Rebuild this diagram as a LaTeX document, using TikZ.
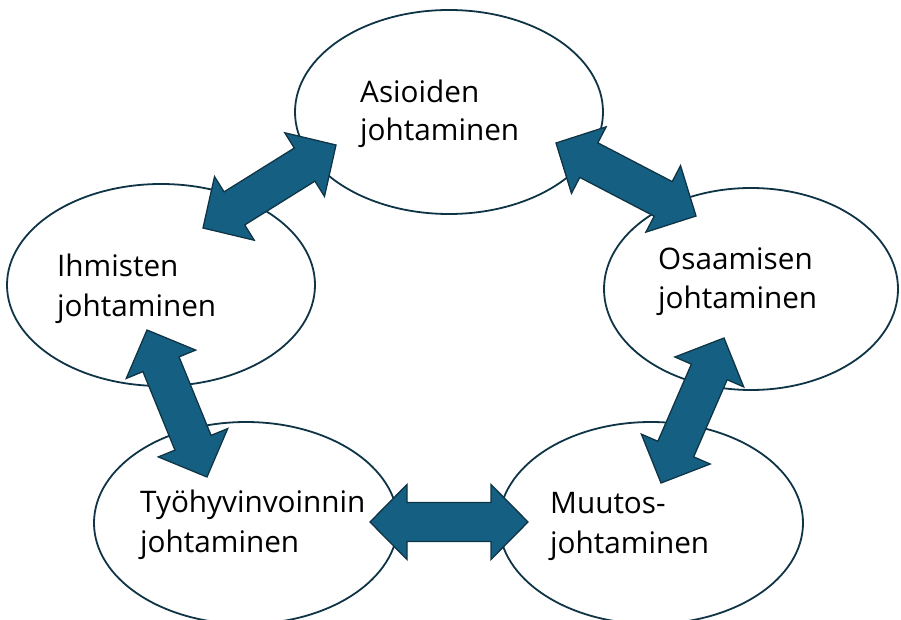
\documentclass[tikz,border=0pt]{standalone}
\usepackage{fontspec}
\setmainfont{Open Sans}
\usetikzlibrary{calc,shapes.geometric}
\definecolor{arrowblue}{HTML}{156082}
\definecolor{edgedark}{HTML}{0F3446}
\tikzset{
  bubble/.style={ellipse, draw=edgedark, line width=1.8pt, fill=white, inner sep=0pt},
  lbl/.style={anchor=base west, inner sep=0pt, font=\fontsize{29.7}{36}\selectfont, text=black},
  blockarrow/.style={fill=arrowblue, draw=edgedark, line width=1.3pt, line join=miter},
}
\newcommand\dblblock[2]{%
  \draw[blockarrow] (#1)
    -- ($(#1)!37pt!(#2)!37.5pt!90:(#2)$)
    -- ($(#1)!37pt!(#2)!19.5pt!90:(#2)$)
    -- ($(#2)!37pt!(#1)!19.5pt!-90:(#1)$)
    -- ($(#2)!37pt!(#1)!37.5pt!-90:(#1)$)
    -- (#2)
    -- ($(#2)!37pt!(#1)!37.5pt!90:(#1)$)
    -- ($(#2)!37pt!(#1)!19.5pt!90:(#1)$)
    -- ($(#1)!37pt!(#2)!19.5pt!-90:(#2)$)
    -- ($(#1)!37pt!(#2)!37.5pt!-90:(#2)$)
    -- cycle;}
\begin{document}
\begin{tikzpicture}[x=1pt,y=-1pt]
\useasboundingbox (0,0) rectangle (901,620);
% bubbles
\node[bubble, minimum width=308pt, minimum height=204pt] (asi) at (449,112) {};
\node[bubble, minimum width=308pt, minimum height=202pt] (ihm) at (161,285) {};
\node[bubble, minimum width=294pt, minimum height=202pt] (osa) at (751,289) {};
\node[bubble, minimum width=304pt, minimum height=202pt] (tyo) at (246,523) {};
\node[bubble, minimum width=304pt, minimum height=202pt] (muu) at (651,523) {};
% arrow tips
\coordinate (a1) at (336,145); \coordinate (a2) at (203,228);
\coordinate (b1) at (556,143); \coordinate (b2) at (696,216);
\coordinate (c1) at (147,330); \coordinate (c2) at (207,477);
\coordinate (d1) at (724,338); \coordinate (d2) at (661,483);
\coordinate (e1) at (370,522); \coordinate (e2) at (528,522);
\dblblock{a1}{a2}
\dblblock{b1}{b2}
\dblblock{c1}{c2}
\dblblock{d1}{d2}
\dblblock{e1}{e2}
% labels
\node[lbl] (asiA) at (360,103) {Asioiden};
\node[lbl] (asiB) at (360,141) {johtaminen};
\node[lbl] (ihmA) at (57,276) {Ihmisten};
\node[lbl] (ihmB) at (57,316) {johtaminen};
\node[lbl] (osaA) at (658,269) {Osaamisen};
\node[lbl] (osaB) at (658,308) {johtaminen};
\node[lbl] (tyoA) at (140,512) {Työhyvinvoinnin};
\node[lbl] (tyoB) at (140,552) {johtaminen};
\node[lbl] (muuA) at (550,513) {Muutos-};
\node[lbl] (muuB) at (550,553) {johtaminen};
\end{tikzpicture}
\end{document}
